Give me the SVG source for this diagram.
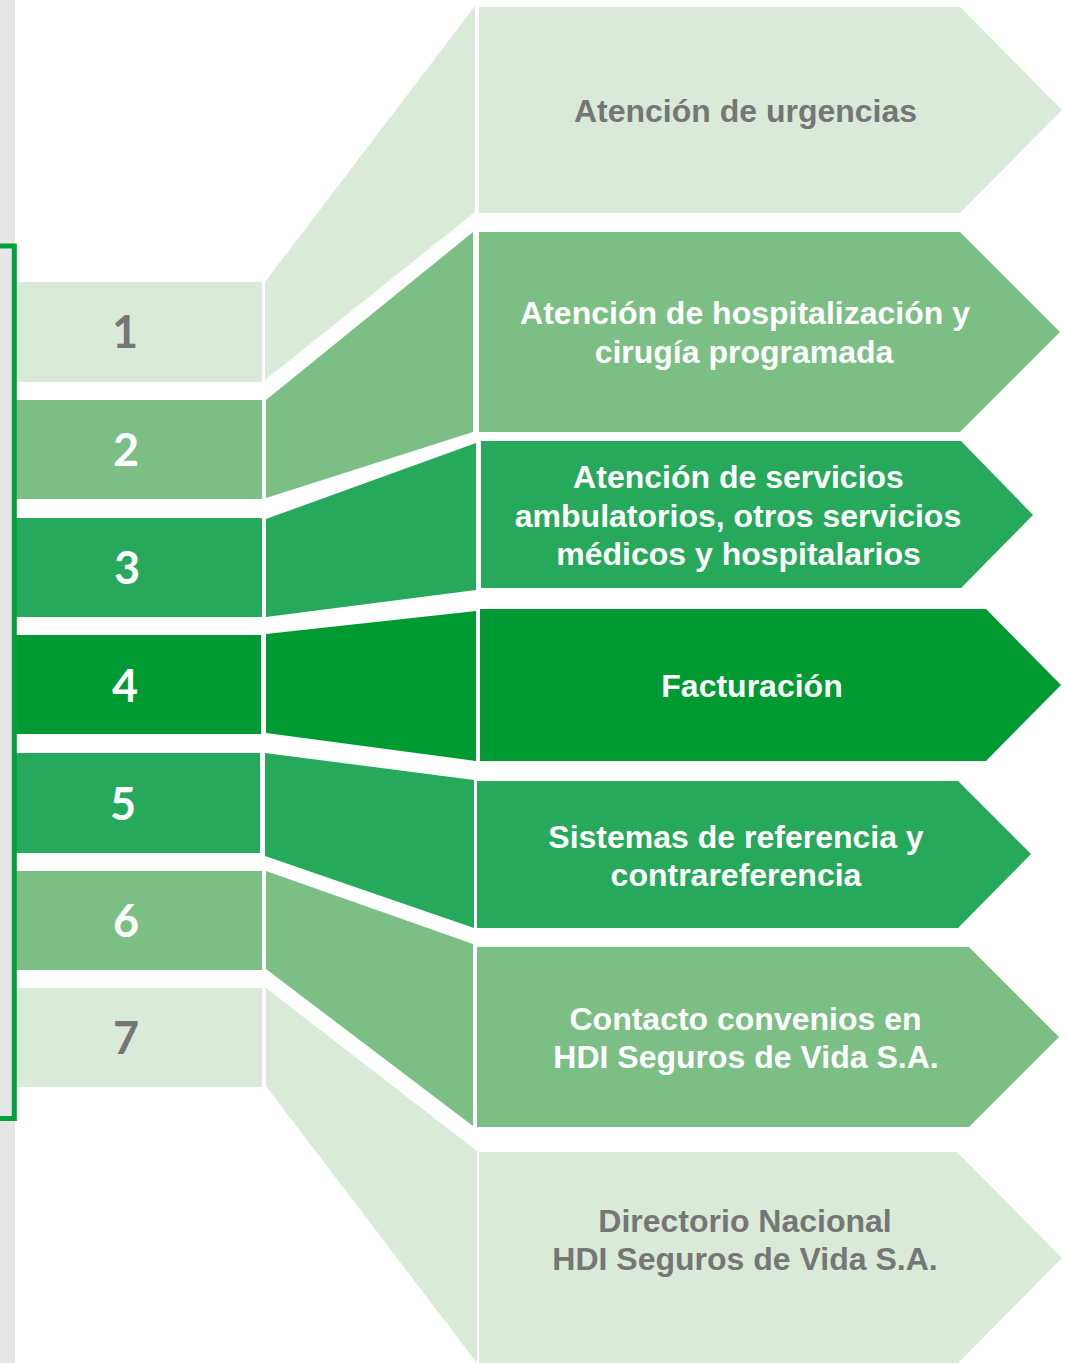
<svg xmlns="http://www.w3.org/2000/svg" width="1066" height="1363" viewBox="0 0 1066 1363">
  <style>
    .c1 { fill: #daead8; }
    .c2 { fill: #7bbf85; }
    .c3 { fill: #26a95b; }
    .c4 { fill: #009a33; }
    .num { font-family: Lato, "Open Sans", sans-serif; font-weight: 700; font-size: 45px; text-anchor: middle; }
    .lbl { font-family: "Liberation Sans", Arial, sans-serif; font-weight: 700; font-size: 32px; text-anchor: middle; }
    .grey { fill: #767676; }
    .white { fill: #ffffff; }
  </style>

  <!-- page edge strip -->
  <rect x="0" y="0" width="15" height="1363" fill="#e6e6e6"/>

  <!-- step numbers -->
  <g id="step-1"><rect class="c1" x="15" y="282" width="247" height="100"/><text class="num grey" x="125" y="348">1</text></g>
  <g id="step-2"><rect class="c2" x="15" y="400" width="247" height="99"/><text class="num white" x="126" y="466">2</text></g>
  <g id="step-3"><rect class="c3" x="15" y="518" width="247" height="99"/><text class="num white" x="127" y="584">3</text></g>
  <g id="step-4"><rect class="c4" x="15" y="635" width="246" height="99"/><text class="num white" x="125" y="702">4</text></g>
  <g id="step-5"><rect class="c3" x="15" y="753" width="245" height="100"/><text class="num white" x="123" y="820">5</text></g>
  <g id="step-6"><rect class="c2" x="15" y="871" width="247" height="99"/><text class="num white" x="126" y="937">6</text></g>
  <g id="step-7"><rect class="c1" x="15" y="988" width="247" height="99"/><text class="num grey" x="126" y="1054">7</text></g>

  <!-- bracket grouping the steps -->
  <path id="bracket" d="M0,246 H14.3 V1118.5 H0" fill="none" stroke="#00a13a" stroke-width="5"/>

  <!-- fan-out connectors between numbers and arrows -->
  <g id="connectors">
    <polygon class="c1" points="265,282 475,6 475,212 265,380"/>
    <polygon class="c2" points="266,400 473,232 473,432 266,498"/>
    <polygon class="c3" points="266,519 476,443 476,590 266,617"/>
    <polygon class="c4" points="266,634 476,611 476,761 266,733"/>
    <polygon class="c3" points="265,753 474,780 474,928 265,856"/>
    <polygon class="c2" points="266,871 473,944 473,1126 266,969"/>
    <polygon class="c1" points="266,988 477,1151 477,1363 266,1086"/>
  </g>

  <!-- arrow labels -->
  <g id="arrow-1">
    <polygon class="c1" points="479,7 960,7 1062,110 960,213 479,213"/>
    <text class="lbl grey" x="745.5" y="122">Atención de urgencias</text>
  </g>
  <g id="arrow-2">
    <polygon class="c2" points="479,232 960,232 1060,332 960,432 479,432"/>
    <text class="lbl white" x="745" y="324">Atención de hospitalización y</text>
    <text class="lbl white" x="744" y="363">cirugía programada</text>
  </g>
  <g id="arrow-3">
    <polygon class="c3" points="481,441 961,441 1033,515 961,588 481,588"/>
    <text class="lbl white" x="738.5" y="488">Atención de servicios</text>
    <text class="lbl white" x="738" y="527">ambulatorios, otros servicios</text>
    <text class="lbl white" x="738.5" y="565">médicos y hospitalarios</text>
  </g>
  <g id="arrow-4">
    <polygon class="c4" points="480,609 986,609 1061,685 986,761 480,761"/>
    <text class="lbl white" x="752" y="697">Facturación</text>
  </g>
  <g id="arrow-5">
    <polygon class="c3" points="477,781 958,781 1031,854 958,928 477,928"/>
    <text class="lbl white" x="736" y="848">Sistemas de referencia y</text>
    <text class="lbl white" x="736" y="886">contrareferencia</text>
  </g>
  <g id="arrow-6">
    <polygon class="c2" points="477,947 969,947 1059,1037 969,1127 477,1127"/>
    <text class="lbl white" x="745.5" y="1030">Contacto convenios en</text>
    <text class="lbl white" x="746" y="1068">HDI Seguros de Vida S.A.</text>
  </g>
  <g id="arrow-7">
    <polygon class="c1" points="479,1152 957,1152 1062,1258 957,1364 479,1364"/>
    <text class="lbl grey" x="745" y="1232">Directorio Nacional</text>
    <text class="lbl grey" x="745" y="1270">HDI Seguros de Vida S.A.</text>
  </g>
</svg>
